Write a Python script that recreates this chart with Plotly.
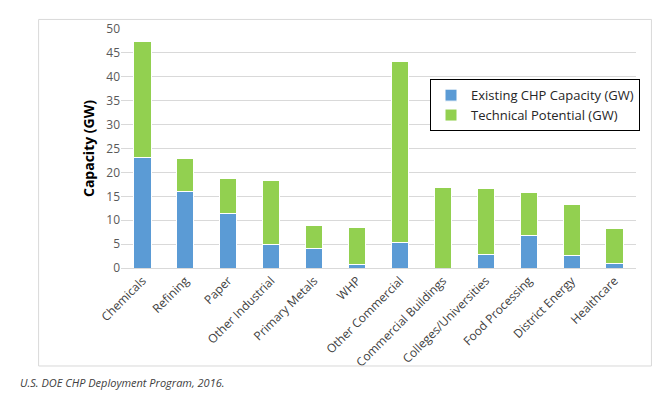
import plotly.graph_objects as go

categories = ['Chemicals', 'Refining', 'Paper', 'Other Industrial', 'Primary Metals', 'WHP',
              'Other Commercial', 'Commercial Buildings', 'Colleges/Universities',
              'Food Processing', 'District Energy', 'Healthcare']
existing = [23.2, 16.1, 11.4, 5.0, 4.1, 0.8, 5.3, 0.0, 2.8, 6.7, 2.7, 0.95]
potential = [24.1, 6.9, 7.3, 13.3, 4.7, 7.6, 37.9, 16.9, 13.8, 9.1, 10.6, 7.25]
y_ticks = list(range(0, 51, 5))

blue = '#5B9BD5'
green = '#92D050'
font = 'Open Sans, Calibri, Arial'

fig = go.Figure()
fig.add_trace(go.Bar(x=categories, y=existing, name='Existing CHP Capacity (GW)',
                     marker=dict(color=blue, line=dict(color='white', width=1))))
fig.add_trace(go.Bar(x=categories, y=potential, name='Technical Potential (GW)',
                     marker=dict(color=green, line=dict(color='white', width=1))))

fig.update_layout(
    barmode='stack',
    bargap=0.6,
    width=662, height=407,
    plot_bgcolor='white', paper_bgcolor='white',
    font=dict(family=font, size=12, color='#595959'),
    margin=dict(l=113, r=34, t=14, b=147),
    showlegend=True,
    legend=dict(x=0.6, y=0.79, xanchor='left', yanchor='top', traceorder='normal',
                bordercolor='black', borderwidth=1, bgcolor='white',
                font=dict(size=13, color='#262626'), tracegroupgap=4),
    xaxis=dict(tickangle=-45, tickfont=dict(size=12, color='#404040'),
               showline=True, linecolor='#d9d9d9', ticks=''),
    yaxis=dict(range=[0, 50], tickvals=y_ticks, showgrid=True, gridcolor='#d9d9d9',
               zeroline=False, tickfont=dict(size=12, color='#595959'),
               title=dict(text='<b>Capacity (GW)</b>', font=dict(size=14, color='black'),
                          standoff=8)),
    shapes=[dict(type='rect', xref='paper', yref='paper', x0=-0.16, x1=1.03, y0=-0.41, y1=1.04,
                 line=dict(color='#d9d9d9', width=1))],
    annotations=[dict(text='<i>U.S. DOE CHP Deployment Program, 2016.</i>', xref='paper', yref='paper',
                      x=-0.2, y=-0.48, xanchor='left', yanchor='middle', showarrow=False,
                      font=dict(size=11, color='#404040'))],
)

fig.write_html('out.html')
